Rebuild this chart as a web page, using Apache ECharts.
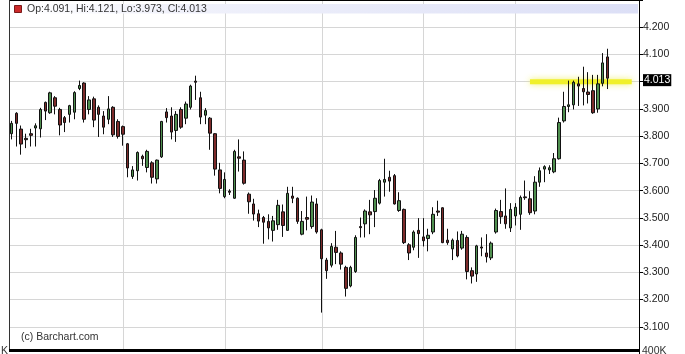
<!DOCTYPE html>
<html>
<head>
<meta charset="utf-8">
<script src="https://cdn.jsdelivr.net/npm/echarts@6/dist/echarts.min.js"></script>
<style>
html,body{margin:0;padding:0;background:#fff;}
#chart{width:685px;height:354px;}
</style>
</head>
<body>
<div id="chart"></div>
<script>
// ---- Data ----
// [open, close, low, high]
const ohlc = [
[3.809,3.847,3.788,3.856],[3.884,3.847,3.762,3.888],[3.826,3.771,3.732,3.839],[3.792,3.787,3.756,3.809],
[3.809,3.803,3.762,3.827],[3.830,3.838,3.762,3.847],[3.827,3.898,3.795,3.904],[3.924,3.892,3.859,3.927],
[3.886,3.959,3.882,3.963],[3.941,3.910,3.880,3.947],[3.898,3.841,3.803,3.904],[3.868,3.850,3.815,3.874],
[3.880,3.912,3.850,3.915],[3.888,3.960,3.862,3.965],[3.975,3.986,3.969,4.004],[3.995,3.862,3.850,3.998],
[3.898,3.933,3.880,3.947],[3.937,3.859,3.833,3.945],[3.906,3.880,3.797,3.913],[3.874,3.833,3.807,3.892],
[3.862,3.900,3.844,3.947],[3.906,3.805,3.797,3.910],[3.854,3.799,3.791,3.862],[3.835,3.807,3.765,3.839],
[3.772,3.683,3.649,3.775],[3.652,3.676,3.643,3.690],[3.673,3.740,3.637,3.744],[3.726,3.717,3.691,3.732],
[3.685,3.744,3.667,3.750],[3.702,3.649,3.626,3.708],[3.643,3.712,3.626,3.714],[3.724,3.854,3.720,3.856],
[3.889,3.868,3.850,3.903],[3.874,3.815,3.788,3.906],[3.821,3.880,3.779,3.892],[3.898,3.833,3.827,3.906],
[3.866,3.918,3.844,3.927],[3.906,3.984,3.898,3.989],[4.002,3.998,3.933,4.022],[3.941,3.870,3.844,3.963],
[3.877,3.894,3.844,3.903],[3.866,3.811,3.750,3.870],[3.809,3.679,3.655,3.811],[3.676,3.608,3.590,3.702],
[3.578,3.641,3.572,3.667],[3.598,3.594,3.584,3.605],[3.572,3.744,3.570,3.750],[3.724,3.719,3.670,3.788],
[3.712,3.627,3.622,3.744],[3.587,3.559,3.515,3.593],[3.551,3.514,3.490,3.570],[3.515,3.488,3.466,3.530],
[3.501,3.484,3.405,3.507],[3.487,3.463,3.421,3.513],[3.454,3.489,3.413,3.507],[3.475,3.546,3.456,3.566],
[3.522,3.472,3.430,3.549],[3.454,3.590,3.452,3.614],[3.580,3.572,3.554,3.614],[3.572,3.487,3.478,3.575],
[3.440,3.487,3.436,3.525],[3.501,3.495,3.454,3.578],[3.468,3.558,3.460,3.582],[3.551,3.448,3.442,3.572],
[3.456,3.350,3.152,3.460],[3.345,3.306,3.276,3.353],[3.326,3.395,3.318,3.407],[3.392,3.373,3.330,3.452],
[3.371,3.330,3.310,3.377],[3.318,3.241,3.211,3.324],[3.250,3.318,3.245,3.324],[3.303,3.428,3.298,3.436],
[3.468,3.464,3.428,3.501],[3.478,3.525,3.428,3.531],[3.522,3.511,3.440,3.566],[3.523,3.572,3.466,3.602],
[3.554,3.637,3.549,3.643],[3.631,3.641,3.578,3.717],[3.649,3.635,3.596,3.673],[3.655,3.551,3.549,3.661],
[3.527,3.563,3.522,3.594],[3.531,3.409,3.404,3.534],[3.401,3.371,3.345,3.407],[3.392,3.448,3.381,3.454],
[3.454,3.442,3.353,3.499],[3.430,3.416,3.395,3.499],[3.424,3.436,3.377,3.460],[3.448,3.513,3.440,3.539],
[3.525,3.521,3.507,3.563],[3.537,3.409,3.407,3.539],[3.418,3.409,3.401,3.460],[3.386,3.418,3.345,3.424],
[3.417,3.360,3.355,3.450],[3.389,3.440,3.383,3.452],[3.428,3.303,3.274,3.436],[3.306,3.286,3.259,3.318],
[3.294,3.397,3.265,3.401],[3.393,3.389,3.359,3.428],[3.371,3.357,3.336,3.440],[3.353,3.407,3.345,3.413],
[3.448,3.527,3.442,3.534],[3.523,3.504,3.478,3.566],[3.507,3.478,3.460,3.608],[3.463,3.531,3.448,3.554],
[3.507,3.539,3.472,3.554],[3.513,3.575,3.456,3.582],[3.577,3.574,3.566,3.637],[3.570,3.519,3.511,3.598],
[3.525,3.631,3.513,3.653],[3.631,3.673,3.614,3.685],[3.679,3.688,3.631,3.693],[3.676,3.684,3.661,3.693],
[3.669,3.717,3.664,3.738],[3.717,3.850,3.714,3.868],[3.856,3.909,3.850,3.963],[3.909,3.915,3.888,4.004],
[3.915,3.998,3.898,4.004],[3.992,3.984,3.911,4.018],[3.975,3.963,3.913,4.055],[3.962,3.953,3.920,4.035],
[3.967,3.886,3.882,4.025],[3.900,3.992,3.886,4.025],[3.994,4.069,3.983,4.105],[4.091,4.013,3.973,4.121]
];
const emptyDays = 6;                       // blank space right of last candle
const categories = [];
for (let i = 0; i < ohlc.length + emptyDays; i++) categories.push('D' + (i + 1));
const monthStarts = [23, 44, 64, 85, 104];  // vertical grid lines (category index)
const supportLevel = 4.0;                   // yellow highlighted level
const supportFrom = 107, supportTo = 128;   // category span of the yellow band
const yTicks = { min: 3.0, max: 4.3, step: 0.1 };
const last = ohlc[ohlc.length - 1];
const legendText = 'Op:' + last[0].toFixed(3) + ', Hi:' + last[3].toFixed(3) +
                   ', Lo:' + last[2].toFixed(3) + ', Cl:' + last[1].toFixed(3);

const FONT = "'Liberation Sans', Arial, sans-serif";
const chart = echarts.init(document.getElementById('chart'), null, {renderer: 'canvas'});

chart.setOption({
  animation: false,
  backgroundColor: '#ffffff',
  grid: { left: 9, right: 46, top: -2.2, bottom: -10.5, containLabel: false },
  xAxis: {
    type: 'category',
    data: categories,
    boundaryGap: true,
    axisLine: { show: false },
    axisTick: { show: false },
    axisLabel: { show: false },
    splitLine: { show: false }
  },
  yAxis: {
    type: 'value',
    position: 'right',
    min: yTicks.min, max: yTicks.max, interval: yTicks.step,
    axisLine: { show: true, lineStyle: { color: '#000', width: 1 } },
    axisTick: { show: true, inside: false, length: 4, lineStyle: { color: '#000' } },
    axisLabel: {
      margin: 4,
      color: '#222',
      fontFamily: FONT,
      fontSize: 10.5,
      formatter: function (v) {
        if (v >= yTicks.max - 1e-6 || v <= yTicks.min + 1e-6) return '';
        if (Math.abs(v - last[1]) < 0.03) return '';
        return v.toFixed(3);
      }
    },
    splitLine: { show: true, lineStyle: { color: '#d6d6d6', width: 1 } }
  },
  series: [
    {
      type: 'line',
      z: 1,
      silent: true,
      symbol: 'none',
      data: [[supportFrom, supportLevel], [supportTo, supportLevel]],
      lineStyle: { color: '#f0f02a', width: 5, shadowBlur: 6, shadowColor: 'rgba(240,240,90,0.9)' }
    },
    {
      type: 'candlestick',
      z: 3,
      barWidth: 3,
      data: ohlc,
      itemStyle: {
        color: '#4f8f4f',
        color0: '#7d2b2b',
        borderColor: '#111',
        borderColor0: '#111',
        borderColorDoji: '#111',
        borderWidth: 1
      }
    }
  ]
});

// Positions of decorations come from the chart's own scales
const gridTopY = 0, gridBottomY = 349;
const graphics = [];
monthStarts.forEach(function (i) {
  const px = Math.round(chart.convertToPixel({ gridIndex: 0 }, [i, supportLevel])[0]) + 0.5;
  graphics.push({ type: 'line', z: 1, silent: true,
    shape: { x1: px, y1: gridTopY, x2: px, y2: gridBottomY },
    style: { stroke: '#d6d6d6', lineWidth: 1 } });
});
const tagY = chart.convertToPixel({ gridIndex: 0 }, [0, last[1]])[1];
graphics.push(
  { type: 'rect', z: 10, shape: { x: 10, y: 4, width: 628, height: 9.5 },
    style: { fill: new echarts.graphic.LinearGradient(0, 0, 1, 0, [
      { offset: 0, color: '#ffffff' }, { offset: 0.25, color: '#f1f2fb' }, { offset: 1, color: '#dcdff6' }]) } },
  { type: 'rect', z: 11, shape: { x: 14.5, y: 5.5, width: 7, height: 7 },
    style: { fill: '#cc2a2a', stroke: '#7a1a1a', lineWidth: 1 } },
  { type: 'text', z: 11, x: 27, y: 9,
    style: { text: legendText, font: '10.5px ' + FONT, fill: '#333', verticalAlign: 'middle' } },
  { type: 'line', z: 12, shape: { x1: 9, y1: 0.5, x2: 639, y2: 0.5 }, style: { stroke: '#000', lineWidth: 1 } },
  { type: 'line', z: 12, shape: { x1: 9.5, y1: 0, x2: 9.5, y2: 350 }, style: { stroke: '#333', lineWidth: 1 } },
  { type: 'rect', z: 12, shape: { x: 9, y: 349, width: 631, height: 3 }, style: { fill: '#000' } },
  { type: 'text', z: 12, x: 21, y: 337,
    style: { text: '(c) Barchart.com', font: '10.5px ' + FONT, fill: '#333', verticalAlign: 'middle' } },
  { type: 'text', z: 12, x: 1, y: 346,
    style: { text: 'K', font: '10.5px ' + FONT, fill: '#333', verticalAlign: 'top' } },
  { type: 'text', z: 12, x: 642, y: 346,
    style: { text: '400K', font: '10.5px ' + FONT, fill: '#333', verticalAlign: 'top' } },
  { type: 'text', z: 12, x: 643, y: tagY + 2,
    style: { text: last[1].toFixed(3), font: '10.5px ' + FONT, fill: '#fff',
             backgroundColor: '#000', padding: [1, 1, 0, 1], verticalAlign: 'middle' } }
);
chart.setOption({ graphic: graphics });
</script>
</body>
</html>
